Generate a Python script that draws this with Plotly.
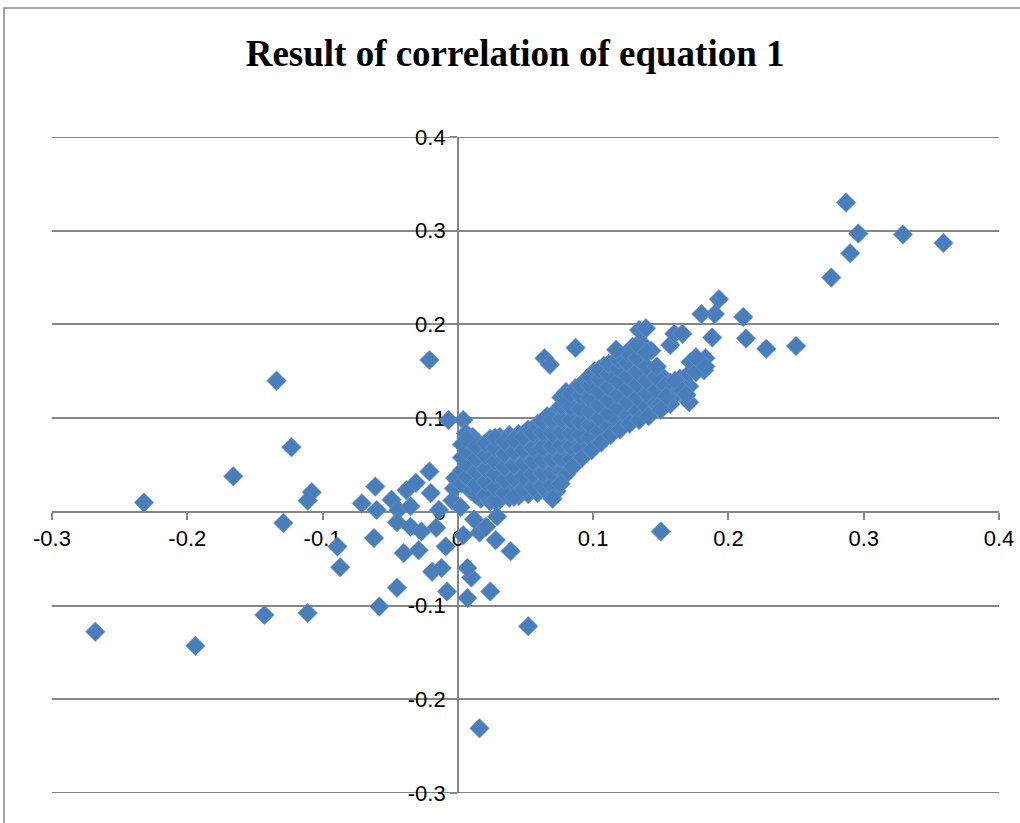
import plotly.graph_objects as go

title_text = "Result of correlation of equation 1"

# tick labels
x_tick_vals = [-0.3, -0.2, -0.1, 0, 0.1, 0.2, 0.3, 0.4]
x_tick_text = ["-0.3", "-0.2", "-0.1", "0", "0.1", "0.2", "0.3", "0.4"]
y_tick_vals = [-0.3, -0.2, -0.1, 0, 0.1, 0.2, 0.3, 0.4]
y_tick_text = ["-0.3", "-0.2", "-0.1", "0", "0.1", "0.2", "0.3", "0.4"]
y_edge_grid = [-0.3, 0.4]

# scattered points left of the y axis
left_points = [
    (-0.268, -0.128), (-0.232, 0.010), (-0.194, -0.143), (-0.166, 0.038),
    (-0.134, 0.140), (-0.123, 0.069), (-0.129, -0.012), (-0.143, -0.110),
    (-0.108, 0.021), (-0.111, 0.012), (-0.111, -0.108), (-0.089, -0.037),
    (-0.087, -0.059), (-0.021, 0.162), (-0.071, 0.009), (-0.061, 0.027),
    (-0.060, 0.002), (-0.062, -0.028), (-0.058, -0.101), (-0.045, -0.081),
    (-0.049, 0.013), (-0.044, 0.002), (-0.038, 0.023), (-0.031, 0.031),
    (-0.045, -0.011), (-0.040, -0.044), (-0.035, -0.016), (-0.035, 0.006),
    (-0.029, -0.041), (-0.021, 0.043), (-0.020, 0.020), (-0.027, -0.021),
    (-0.016, -0.017), (-0.014, 0.002), (-0.019, -0.064), (-0.012, -0.060),
    (-0.009, -0.037), (-0.008, -0.085), (-0.007, 0.098),
    (-0.003, 0.025), (-0.002, 0.036), (-0.004, 0.012),
]

# points near the origin, below the main band
origin_points = [
    (0.004, 0.098), (0.007, -0.092), (0.010, -0.070), (0.007, -0.060),
    (0.024, -0.085), (0.039, -0.042), (0.016, -0.231), (0.052, -0.122),
    (0.150, -0.021), (0.016, -0.022), (0.021, -0.016), (0.029, -0.005),
    (0.028, -0.030), (0.004, -0.025), (0.012, -0.008), (0.002, 0.005),
    (0.011, 0.080), (0.064, 0.164), (0.068, 0.157), (0.087, 0.175),
]

# main dense band
band_points = [
    (0.003, 0.030), (0.003, 0.044), (0.003, 0.058), (0.003, 0.072), (0.006, 0.084),
    (0.010, 0.022), (0.010, 0.036), (0.010, 0.050), (0.010, 0.064), (0.010, 0.076),
    (0.017, 0.014), (0.017, 0.028), (0.017, 0.042), (0.017, 0.056), (0.017, 0.070),
    (0.024, 0.011), (0.024, 0.025), (0.024, 0.039), (0.024, 0.053), (0.024, 0.067), (0.024, 0.078),
    (0.031, 0.013), (0.031, 0.027), (0.031, 0.041), (0.031, 0.055), (0.031, 0.069), (0.031, 0.080),
    (0.038, 0.015), (0.038, 0.029), (0.038, 0.043), (0.038, 0.057), (0.038, 0.071), (0.038, 0.082),
    (0.045, 0.017), (0.045, 0.031), (0.045, 0.045), (0.045, 0.059), (0.045, 0.073), (0.045, 0.083),
    (0.052, 0.019), (0.052, 0.033), (0.052, 0.047), (0.052, 0.061), (0.052, 0.075), (0.052, 0.088),
    (0.059, 0.020), (0.059, 0.034), (0.059, 0.048), (0.059, 0.062), (0.059, 0.076), (0.059, 0.094),
    (0.066, 0.021), (0.066, 0.035), (0.066, 0.049), (0.066, 0.063), (0.066, 0.077), (0.066, 0.091), (0.066, 0.102),
    (0.073, 0.022), (0.073, 0.036), (0.073, 0.050), (0.073, 0.064), (0.073, 0.078), (0.073, 0.092), (0.073, 0.108),
    (0.080, 0.050), (0.080, 0.064), (0.080, 0.078), (0.080, 0.092), (0.080, 0.106), (0.080, 0.120), (0.080, 0.128),
    (0.087, 0.062), (0.087, 0.076), (0.087, 0.090), (0.087, 0.104), (0.087, 0.118), (0.087, 0.132),
    (0.094, 0.074), (0.094, 0.088), (0.094, 0.102), (0.094, 0.116), (0.094, 0.130), (0.094, 0.139),
    (0.101, 0.083), (0.101, 0.097), (0.101, 0.111), (0.101, 0.125), (0.101, 0.139), (0.101, 0.150),
    (0.108, 0.088), (0.108, 0.102), (0.108, 0.116), (0.108, 0.130), (0.108, 0.144), (0.108, 0.156),
    (0.115, 0.094), (0.115, 0.108), (0.115, 0.122), (0.115, 0.136), (0.115, 0.150), (0.115, 0.160),
    (0.122, 0.100), (0.122, 0.114), (0.122, 0.128), (0.122, 0.142), (0.122, 0.156), (0.122, 0.166),
    (0.129, 0.106), (0.129, 0.120), (0.129, 0.134), (0.129, 0.148), (0.129, 0.162), (0.129, 0.176),
    (0.136, 0.110), (0.136, 0.124), (0.136, 0.138), (0.136, 0.152), (0.136, 0.166), (0.136, 0.180),
    (0.143, 0.114), (0.143, 0.128), (0.143, 0.142), (0.143, 0.172),
    (0.150, 0.118), (0.150, 0.132), (0.150, 0.146),
    (0.157, 0.122), (0.157, 0.138), (0.157, 0.178),
    (0.164, 0.128), (0.164, 0.142),
    (0.171, 0.134), (0.171, 0.148),
]

# interleaved points that fill the band
band_fill_points = [
    (0.0065, 0.037), (0.0065, 0.051), (0.0065, 0.065), (0.0065, 0.078),
    (0.0135, 0.018), (0.0135, 0.029), (0.0135, 0.043), (0.0135, 0.057), (0.0135, 0.070),
    (0.0205, 0.018), (0.0205, 0.032), (0.0205, 0.046), (0.0205, 0.060), (0.0205, 0.073),
    (0.0275, 0.012), (0.0275, 0.026), (0.0275, 0.040), (0.0275, 0.054), (0.0275, 0.068), (0.0275, 0.079),
    (0.0345, 0.020), (0.0345, 0.034), (0.0345, 0.048), (0.0345, 0.062), (0.0345, 0.075),
    (0.0415, 0.016), (0.0415, 0.036), (0.0415, 0.050), (0.0415, 0.064), (0.0415, 0.077),
    (0.0485, 0.024), (0.0485, 0.038), (0.0485, 0.052), (0.0485, 0.066), (0.0485, 0.080),
    (0.0555, 0.026), (0.0555, 0.040), (0.0555, 0.054), (0.0555, 0.068), (0.0555, 0.084),
    (0.0625, 0.027), (0.0625, 0.041), (0.0625, 0.055), (0.0625, 0.069), (0.0625, 0.085), (0.0625, 0.097),
    (0.0695, 0.028), (0.0695, 0.042), (0.0695, 0.056), (0.0695, 0.070), (0.0695, 0.084), (0.0695, 0.098),
    (0.0765, 0.043), (0.0765, 0.057), (0.0765, 0.071), (0.0765, 0.085), (0.0765, 0.099), (0.0765, 0.113), (0.0765, 0.122),
    (0.0835, 0.056), (0.0835, 0.070), (0.0835, 0.084), (0.0835, 0.098), (0.0835, 0.112), (0.0835, 0.126),
    (0.0905, 0.068), (0.0905, 0.082), (0.0905, 0.096), (0.0905, 0.110), (0.0905, 0.124), (0.0905, 0.135),
    (0.0975, 0.079), (0.0975, 0.093), (0.0975, 0.107), (0.0975, 0.121), (0.0975, 0.135), (0.0975, 0.145),
    (0.1045, 0.086), (0.1045, 0.100), (0.1045, 0.114), (0.1045, 0.128), (0.1045, 0.142), (0.1045, 0.152),
    (0.1115, 0.091), (0.1115, 0.105), (0.1115, 0.119), (0.1115, 0.133), (0.1115, 0.147), (0.1115, 0.158),
    (0.1185, 0.097), (0.1185, 0.111), (0.1185, 0.125), (0.1185, 0.139), (0.1185, 0.153), (0.1185, 0.163),
    (0.1255, 0.103), (0.1255, 0.117), (0.1255, 0.131), (0.1255, 0.145), (0.1255, 0.159), (0.1255, 0.170),
    (0.1325, 0.108), (0.1325, 0.122), (0.1325, 0.136), (0.1325, 0.150), (0.1325, 0.164), (0.1325, 0.178),
    (0.1395, 0.112), (0.1395, 0.126), (0.1395, 0.140), (0.1395, 0.155), (0.1395, 0.170),
    (0.1465, 0.116), (0.1465, 0.130), (0.1465, 0.144),
    (0.1535, 0.120), (0.1535, 0.135),
    (0.1605, 0.125), (0.1605, 0.140),
]

# points along the lower edge of the band
band_low_points = [
    (0.080, 0.040), (0.085, 0.048), (0.092, 0.058), (0.099, 0.066),
    (0.106, 0.074), (0.113, 0.082), (0.120, 0.088), (0.127, 0.094),
    (0.134, 0.098), (0.141, 0.102), (0.076, 0.030), (0.070, 0.014),
]

# upper right points
right_points = [
    (0.287, 0.330), (0.296, 0.297), (0.329, 0.296), (0.359, 0.287),
    (0.290, 0.276), (0.276, 0.250), (0.250, 0.177), (0.228, 0.174),
    (0.213, 0.185), (0.211, 0.208), (0.193, 0.227), (0.190, 0.211),
    (0.180, 0.211), (0.188, 0.186), (0.183, 0.164), (0.182, 0.151),
    (0.172, 0.160), (0.176, 0.149), (0.166, 0.129), (0.157, 0.115),
    (0.171, 0.117), (0.150, 0.115), (0.134, 0.194), (0.139, 0.196),
    (0.160, 0.190), (0.166, 0.190), (0.147, 0.155), (0.176, 0.165),
    (0.183, 0.155), (0.154, 0.123), (0.169, 0.125), (0.150, 0.109),
    (0.117, 0.173),
]

all_points = (left_points + origin_points + band_points + band_fill_points
              + band_low_points + right_points)
x_vals = [p[0] for p in all_points]
y_vals = [p[1] for p in all_points]

fig = go.Figure()
fig.add_trace(go.Scatter(
    x=x_vals, y=y_vals, mode="markers",
    marker=dict(symbol="diamond", size=15, color="#4A7EBB",
                line=dict(width=0.6, color="#6A96CC")),
    showlegend=False, hoverinfo="x+y",
))

grid_col = "#868686"
tick_font = dict(family="Liberation Sans", size=22, color="black")
fig.update_layout(
    width=1020, height=823,
    paper_bgcolor="white", plot_bgcolor="white",
    margin=dict(l=52, r=21, t=137, b=30, autoexpand=False),
    title=dict(text="<b>" + title_text + "</b>", x=0.505, xanchor="center",
               y=1 - 53 / 823, yanchor="middle",
               font=dict(family="Liberation Serif", size=37, color="black")),
    font=dict(family="Liberation Sans", size=22, color="black"),
    xaxis=dict(range=[-0.3, 0.4], anchor="free", position=3 / 7,
               showgrid=False, zeroline=False, showline=True,
               linecolor=grid_col, linewidth=1.5,
               ticks="outside", ticklen=7, tickcolor=grid_col, tickwidth=1.5,
               tickvals=x_tick_vals, ticktext=x_tick_text,
               tickfont=tick_font, layer="below traces"),
    yaxis=dict(range=[-0.3, 0.4], anchor="free", position=3 / 7,
               showgrid=True, gridcolor=grid_col, gridwidth=2,
               zeroline=False, showline=True,
               linecolor=grid_col, linewidth=1.5,
               ticks="outside", ticklen=7, tickcolor=grid_col, tickwidth=1.5,
               tickvals=y_tick_vals, ticktext=y_tick_text,
               tickfont=tick_font, layer="below traces"),
)

# gridlines on the range edges
for yv in y_edge_grid:
    fig.add_shape(type="line", xref="paper", yref="y", x0=0, x1=1, y0=yv, y1=yv,
                  line=dict(color=grid_col, width=2), layer="below")

# chart frame
fig.add_shape(type="rect", xref="paper", yref="paper",
              x0=(4 - 52) / 947, x1=1.05, y0=-0.2, y1=(793 - 8) / 656,
              line=dict(color=grid_col, width=1.5), layer="below")

fig.write_html("out.html", config={"displayModeBar": False},
               post_script="document.body.style.margin='0';")
